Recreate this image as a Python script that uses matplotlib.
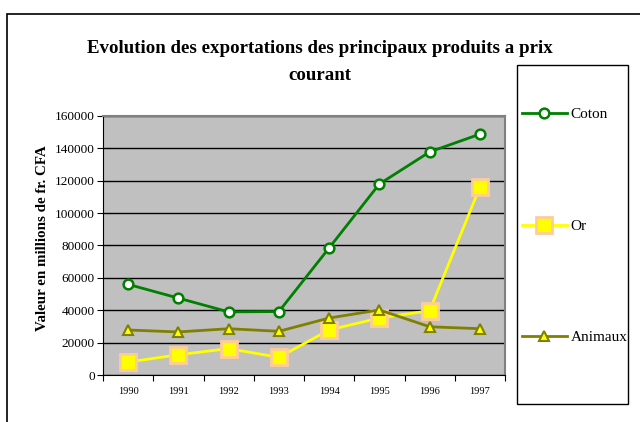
import matplotlib.pyplot as plt
from matplotlib.patches import Rectangle
import numpy as np

plt.rcParams['font.family'] = ['Liberation Serif', 'DejaVu Serif']

years = ['1990', '1991', '1992', '1993', '1994', '1995', '1996', '1997']
coton = [56000, 47500, 39000, 39200, 78500, 118000, 137800, 148800]
orr = [8000, 12500, 16300, 10900, 27800, 35200, 39700, 116000]
animaux = [27800, 26600, 28600, 27000, 35200, 40200, 29800, 28600]
series_names = ['Coton', 'Or', 'Animaux']

fig = plt.figure(figsize=(6.4, 4.22), dpi=100)
W, H = 640, 422

# outer chart frame (runs off the right/bottom edge)
fig.patches.append(Rectangle((7 / W, -0.1), 1.0, 1 - 14 / H + 0.1,
                             transform=fig.transFigure, fill=False,
                             edgecolor='black', lw=1.2))

ax = fig.add_axes([103 / W, 1 - 375 / H, 402 / W, 259 / H])
ax.set_facecolor('#C0C0C0')

x = np.arange(len(years))
ax.plot(x, coton, color='#008000', lw=2, marker='o', ms=7,
        mfc='white', mec='#008000', mew=1.8, label=series_names[0])
ax.plot(x, orr, color='#FFFF00', lw=2, marker='s', ms=11,
        mfc='#FFFF00', mec='#FFCC99', mew=2, label=series_names[1])
ax.plot(x, animaux, color='#808000', lw=2, marker='^', ms=7,
        mfc='#FFFF00', mec='#808000', mew=1.5, label=series_names[2])

ax.set_xlim(-0.5, len(years) - 0.5)
ax.set_ylim(0, 160000)
ax.set_yticks(np.arange(0, 160001, 20000))
ax.yaxis.grid(True, color='black', lw=1)
ax.set_axisbelow(True)
ax.tick_params(axis='y', labelsize=9.5, length=4, direction='out', pad=2)

# ticks between categories, labels at the centres
ax.set_xticks(np.arange(-0.5, len(years), 1))
ax.set_xticklabels([])
ax.set_xticks(x, minor=True)
ax.set_xticklabels(years, minor=True, fontsize=7.5)
ax.tick_params(axis='x', which='major', length=4, direction='out')
ax.tick_params(axis='x', which='minor', length=0, pad=9)

for s in ['top', 'right']:
    ax.spines[s].set_color('#808080')
    ax.spines[s].set_linewidth(1.5)
for s in ['left', 'bottom']:
    ax.spines[s].set_color('black')

ax.set_ylabel('Valeur en millions de fr. CFA', fontsize=10.8,
              fontweight='bold')
ax.yaxis.set_label_coords(-0.135, 0.53)

fig.text(0.5, 1 - 62 / H,
         'Evolution des exportations des principaux produits a prix\ncourant',
         ha='center', va='center', fontsize=13.6, fontweight='bold',
         linespacing=1.7)

# legend box
fig.patches.append(Rectangle((517 / W, 1 - 404 / H), 111 / W, 339 / H,
                             transform=fig.transFigure, fill=False,
                             edgecolor='black', lw=1))
handles, labels = ax.get_legend_handles_labels()
fig.legend(handles, labels, loc='center left',
           bbox_to_anchor=(517 / W, 1 - 226 / H), frameon=False,
           fontsize=11, labelspacing=6.4, handlelength=2.95,
           handletextpad=0.25, borderaxespad=0, borderpad=0.3)

fig.savefig('out.png', dpi=100)
